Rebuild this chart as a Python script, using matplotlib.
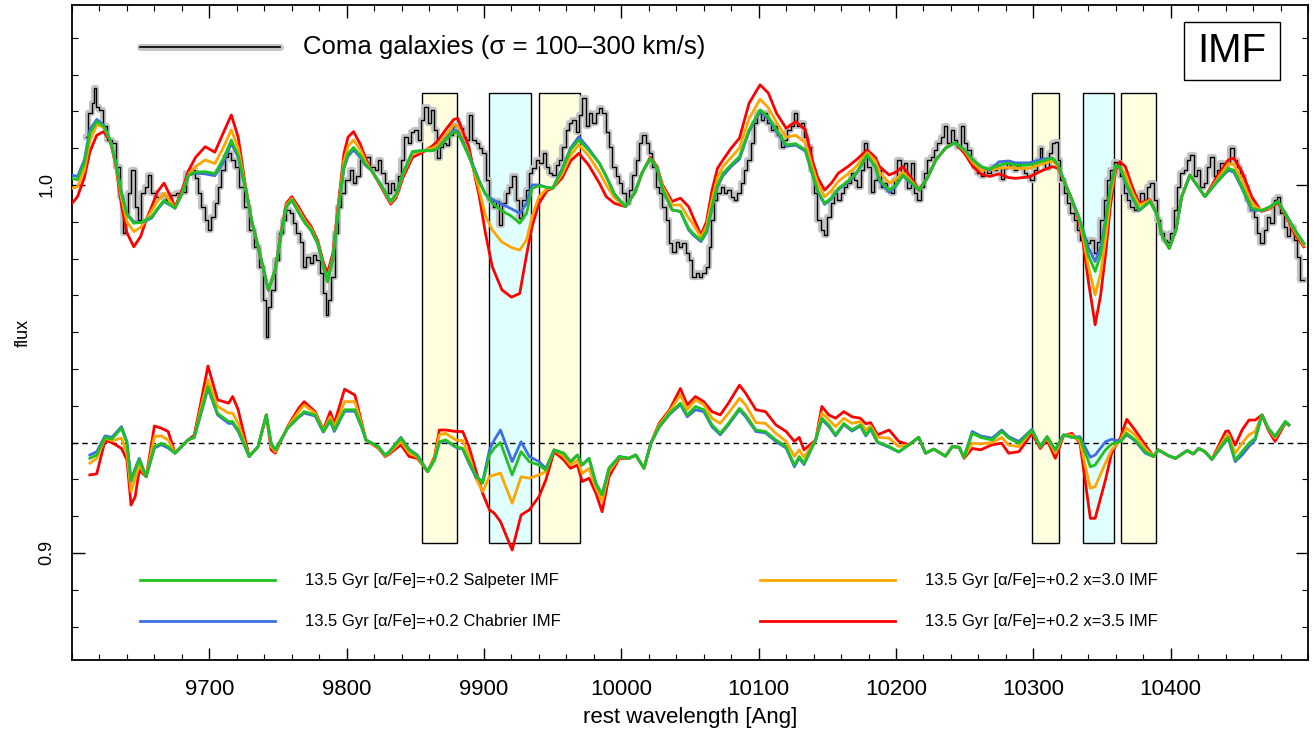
import matplotlib
matplotlib.use("Agg")
import matplotlib.pyplot as plt
from matplotlib.patches import Rectangle
from matplotlib.ticker import MultipleLocator, FixedLocator

plt.rcParams["font.family"] = ["Liberation Sans", "DejaVu Sans"]

# --- Coma galaxies stacked spectrum (step data) ---
coma_wl = [
    9610.5, 9613.0, 9615.4, 9616.6, 9618.5, 9621.4, 9623.9, 9627.5, 9631.1, 9633.6,
    9636.0, 9637.9, 9639.6, 9642.1, 9644.5, 9646.9, 9649.3, 9651.8, 9654.2, 9656.6,
    9659.0, 9662.7, 9666.3, 9670.0, 9673.6, 9677.2, 9680.9, 9684.5, 9688.1, 9690.6,
    9693.0, 9695.4, 9697.9, 9700.3, 9702.7, 9705.1, 9707.6, 9710.0, 9712.4, 9714.8,
    9717.3, 9719.7, 9723.3, 9727.0, 9730.6, 9734.2, 9737.9, 9740.3, 9741.5, 9743.9,
    9746.4, 9748.8, 9752.4, 9754.9, 9757.3, 9759.7, 9762.1, 9764.6, 9767.0, 9769.4,
    9771.8, 9774.3, 9776.7, 9779.1, 9781.6, 9784.0, 9785.9, 9787.6, 9790.0, 9792.5,
    9794.9, 9797.3, 9801.0, 9803.4, 9805.8, 9808.2, 9810.7, 9813.1, 9815.5, 9819.2,
    9821.6, 9824.0, 9826.4, 9828.9, 9831.3, 9833.4, 9835.8, 9838.3, 9840.7, 9843.1,
    9845.5, 9848.0, 9850.4, 9852.8, 9855.2, 9857.7, 9860.1, 9862.5, 9864.9, 9866.9,
    9868.6, 9871.0, 9873.4, 9875.9, 9878.3, 9880.7, 9883.1, 9885.6, 9888.0, 9890.4,
    9892.8, 9895.3, 9897.7, 9900.1, 9902.5, 9905.0, 9907.4, 9909.8, 9912.2, 9914.7,
    9917.1, 9919.5, 9922.0, 9924.4, 9926.8, 9929.2, 9931.7, 9934.1, 9936.5, 9938.9,
    9941.4, 9943.8, 9946.2, 9948.6, 9951.1, 9953.5, 9955.9, 9958.3, 9960.8, 9963.2,
    9965.6, 9968.0, 9970.5, 9972.9, 9975.3, 9977.8, 9980.2, 9982.6, 9985.0, 9987.5,
    9989.9, 9992.3, 9994.7, 9997.2, 9999.6, 10002.0, 10004.4, 10006.9, 10009.3, 10011.7,
    10014.1, 10016.6, 10019.0, 10021.4, 10023.8, 10026.3, 10028.7, 10031.1, 10033.5, 10036.0,
    10038.4, 10040.8, 10043.3, 10045.7, 10048.1, 10050.5, 10053.0, 10055.4, 10057.8, 10060.2,
    10062.6, 10064.5, 10066.3, 10068.7, 10071.1, 10073.6, 10076.0, 10078.4, 10080.8, 10083.3,
    10085.7, 10088.1, 10090.5, 10093.0, 10095.4, 10097.8, 10100.2, 10102.7, 10105.1, 10107.5,
    10110.0, 10112.4, 10114.8, 10117.2, 10119.7, 10122.1, 10124.5, 10126.9, 10129.4, 10131.8,
    10134.2, 10136.6, 10139.1, 10141.5, 10143.9, 10146.3, 10148.8, 10151.2, 10153.6, 10156.0,
    10158.5, 10160.9, 10163.3, 10165.7, 10168.2, 10170.6, 10173.0, 10175.5, 10177.9, 10180.3,
    10182.7, 10185.2, 10187.6, 10190.0, 10192.4, 10194.9, 10197.3, 10199.7, 10202.1, 10204.6,
    10207.0, 10209.4, 10211.8, 10214.3, 10216.7, 10219.1, 10221.5, 10224.0, 10226.4, 10228.8,
    10231.3, 10233.7, 10236.1, 10238.5, 10241.0, 10243.4, 10245.8, 10248.2, 10250.7, 10253.1,
    10255.5, 10257.9, 10260.4, 10262.8, 10265.2, 10267.6, 10270.1, 10272.5, 10274.9, 10277.3,
    10279.8, 10282.1, 10284.5, 10286.9, 10289.4, 10291.8, 10294.2, 10296.6, 10299.1, 10301.5,
    10303.9, 10305.1, 10307.6, 10310.0, 10312.4, 10314.8, 10317.3, 10318.5, 10320.9, 10323.3,
    10325.7, 10328.2, 10330.6, 10333.0, 10335.5, 10337.9, 10340.3, 10342.7, 10345.2, 10347.6,
    10350.0, 10352.4, 10354.9, 10357.3, 10359.7, 10362.1, 10364.6, 10367.0, 10369.4, 10371.8,
    10374.3, 10376.7, 10379.1, 10381.5, 10384.0, 10386.4, 10388.8, 10391.2, 10393.7, 10396.1,
    10398.5, 10401.0, 10403.4, 10405.8, 10408.2, 10410.7, 10413.1, 10415.5, 10417.9, 10420.4,
    10422.8, 10425.2, 10427.6, 10430.1, 10432.5, 10434.9, 10437.3, 10439.8, 10442.2, 10444.6,
    10447.0, 10449.5, 10451.9, 10454.3, 10456.8, 10459.2, 10461.6, 10464.0, 10466.5, 10468.9,
    10471.3, 10473.7, 10476.2, 10478.6, 10481.0, 10483.4, 10485.9, 10488.3, 10490.7, 10493.1,
    10494.8, 10497.0,
]
coma_flux = [
    1.0131, 1.0195, 1.0222, 1.0263, 1.0213, 1.0204, 1.0159, 1.0122, 1.0113, 1.0050,
    0.9968, 0.9869, 0.9923, 0.9977, 1.0041, 0.9941, 0.9905, 0.9977, 0.9995, 1.0027,
    0.9977, 0.9968, 0.9973, 0.9959, 0.9973, 0.9977, 0.9982, 1.0032, 1.0041, 1.0018,
    0.9977, 0.9941, 0.9905, 0.9878, 0.9914, 0.9950, 0.9995, 1.0041, 1.0077, 1.0086,
    1.0068, 1.0050, 0.9995, 0.9941, 0.9878, 0.9832, 0.9778, 0.9687, 0.9588, 0.9669,
    0.9715, 0.9796, 0.9869, 0.9905, 0.9932, 0.9923, 0.9896, 0.9869, 0.9846, 0.9778,
    0.9805, 0.9787, 0.9810, 0.9796, 0.9760, 0.9706, 0.9647, 0.9687, 0.9751, 0.9869,
    0.9941, 0.9977, 1.0014, 1.0041, 1.0005, 1.0023, 1.0068, 1.0059, 1.0077, 1.0050,
    1.0041, 1.0068, 1.0032, 1.0005, 0.9977, 1.0005, 0.9986, 1.0023, 1.0068, 1.0131,
    1.0113, 1.0145, 1.0149, 1.0122, 1.0177, 1.0213, 1.0168, 1.0204, 1.0149, 1.0072,
    1.0104, 1.0113, 1.0109, 1.0136, 1.0159, 1.0163, 1.0154, 1.0131, 1.0122, 1.0190,
    1.0122, 1.0113, 1.0100, 1.0086, 1.0014, 0.9959, 0.9941, 0.9955, 0.9891, 0.9950,
    0.9977, 0.9995, 1.0023, 0.9959, 0.9909, 0.9959, 0.9986, 1.0032, 1.0045, 1.0068,
    1.0059, 1.0086, 1.0050, 1.0032, 1.0027, 1.0055, 1.0068, 1.0104, 1.0149, 1.0168,
    1.0177, 1.0145, 1.0190, 1.0236, 1.0159, 1.0195, 1.0168, 1.0195, 1.0208, 1.0195,
    1.0145, 1.0104, 1.0050, 1.0023, 1.0005, 0.9977, 0.9950, 0.9986, 1.0027, 1.0068,
    1.0113, 1.0136, 1.0113, 1.0086, 1.0050, 0.9995, 0.9977, 0.9941, 0.9905, 0.9841,
    0.9819, 0.9846, 0.9832, 0.9841, 0.9814, 0.9796, 0.9751, 0.9760, 0.9751, 0.9760,
    0.9778, 0.9832, 0.9905, 0.9959, 0.9977, 0.9995, 0.9977, 0.9986, 0.9968, 0.9959,
    0.9977, 1.0005, 1.0041, 1.0068, 1.0113, 1.0168, 1.0195, 1.0177, 1.0195, 1.0168,
    1.0149, 1.0159, 1.0136, 1.0104, 1.0122, 1.0149, 1.0159, 1.0195, 1.0159, 1.0168,
    1.0131, 1.0104, 1.0041, 0.9977, 0.9905, 0.9878, 0.9864, 0.9914, 0.9950, 0.9977,
    0.9959, 0.9977, 0.9995, 1.0005, 1.0032, 1.0014, 0.9995, 1.0041, 1.0113, 1.0050,
    0.9982, 1.0014, 1.0041, 0.9995, 1.0005, 0.9986, 0.9977, 1.0014, 1.0068, 1.0032,
    1.0059, 0.9991, 1.0059, 0.9977, 0.9959, 0.9995, 1.0032, 1.0068, 1.0077, 1.0095,
    1.0113, 1.0131, 1.0159, 1.0113, 1.0149, 1.0122, 1.0104, 1.0159, 1.0113, 1.0095,
    1.0068, 1.0050, 1.0032, 1.0023, 1.0041, 1.0032, 1.0050, 1.0041, 1.0050, 1.0016,
    1.0045, 1.0059, 1.0050, 1.0041, 1.0054, 1.0045, 1.0032, 1.0023, 1.0014, 1.0041,
    1.0068, 1.0100, 1.0068, 1.0045, 1.0086, 1.0113, 1.0118, 1.0068, 1.0014, 0.9977,
    0.9950, 0.9923, 0.9905, 0.9878, 0.9851, 0.9851, 0.9841, 0.9851, 0.9814, 0.9846,
    0.9905, 0.9959, 1.0014, 1.0041, 1.0063, 1.0059, 1.0023, 0.9977, 0.9959, 0.9941,
    0.9932, 0.9950, 0.9977, 0.9959, 0.9995, 1.0005, 0.9959, 0.9905, 0.9869, 0.9851,
    0.9846, 0.9869, 0.9932, 0.9995, 1.0032, 1.0041, 1.0068, 1.0082, 1.0023, 1.0041,
    0.9995, 1.0005, 1.0050, 1.0077, 1.0023, 1.0041, 1.0059, 1.0041, 1.0059, 1.0100,
    1.0068, 1.0050, 1.0023, 0.9995, 0.9959, 0.9932, 0.9914, 0.9869, 0.9841, 0.9878,
    0.9914, 0.9896, 0.9959, 0.9968, 0.9923, 0.9887, 0.9860, 0.9887, 0.9851, 0.9805,
    0.9742, 0.9742,
]

# --- model spectra, upper panel ---
wl_up = [
    9600, 9604, 9609, 9613, 9618, 9623, 9628, 9632, 9636, 9640,
    9645, 9650, 9654, 9658, 9662, 9667, 9671, 9675, 9680, 9685,
    9690, 9697, 9704, 9710, 9716, 9721, 9726, 9731, 9736, 9743,
    9748, 9752, 9756, 9760, 9765, 9770, 9774, 9779, 9783, 9786,
    9790, 9794, 9798, 9801, 9805, 9810, 9814, 9818, 9825, 9832,
    9836, 9841, 9848, 9855, 9862, 9866, 9872, 9878, 9881, 9885,
    9889, 9893, 9896.5, 9901, 9906, 9913, 9920, 9926, 9931, 9935,
    9940, 9946, 9950, 9957, 9963, 9969, 9976, 9984, 9989, 9995,
    10003, 10010, 10015, 10021, 10026, 10030, 10037, 10043, 10049, 10052,
    10058, 10062, 10066, 10070, 10074, 10080, 10086, 10093, 10101, 10107,
    10113, 10120, 10127, 10134, 10139, 10143, 10148, 10153, 10158, 10165,
    10171, 10179, 10185, 10188, 10195, 10200, 10205, 10210, 10217, 10223,
    10229, 10236, 10243, 10250, 10256, 10262, 10268, 10275, 10282, 10287,
    10297, 10307, 10314, 10318, 10323, 10328, 10333, 10336, 10340, 10345,
    10349, 10353, 10356, 10360, 10363, 10367, 10372, 10377, 10385, 10390,
    10394, 10399, 10404, 10408, 10414, 10420, 10425, 10433, 10442, 10446,
    10452, 10459, 10466, 10472, 10478, 10484, 10490, 10497,
]
up_salpeter = [
    1.0018, 1.0014, 1.0060, 1.0140, 1.0172, 1.0160, 1.0120, 1.0060, 0.9977, 0.9920,
    0.9896, 0.9898, 0.9905, 0.9914, 0.9935, 0.9958, 0.9948, 0.9937, 0.9975, 1.0027,
    1.0035, 1.0036, 1.0031, 1.0070, 1.0122, 1.0080, 0.9995, 0.9900, 0.9825, 0.9714,
    0.9770, 0.9858, 0.9940, 0.9959, 0.9925, 0.9895, 0.9877, 0.9840, 0.9780, 0.9737,
    0.9800, 0.9932, 1.0050, 1.0085, 1.0102, 1.0080, 1.0055, 1.0040, 1.0000, 0.9955,
    0.9975, 1.0032, 1.0091, 1.0093, 1.0093, 1.0098, 1.0122, 1.0145, 1.0140, 1.0110,
    1.0077, 1.0040, 1.0009, 0.9975, 0.9950, 0.9930, 0.9915, 0.9896, 0.9923, 0.9990,
    0.9998, 0.9993, 0.9991, 1.0041, 1.0095, 1.0122, 1.0095, 1.0059, 1.0023, 0.9975,
    0.9941, 0.9980, 1.0032, 1.0072, 1.0045, 0.9986, 0.9932, 0.9928, 0.9882, 0.9869,
    0.9850, 0.9875, 0.9941, 1.0000, 1.0032, 1.0055, 1.0077, 1.0150, 1.0204, 1.0185,
    1.0150, 1.0109, 1.0112, 1.0095, 1.0032, 0.9985, 0.9950, 0.9965, 0.9991, 1.0010,
    1.0032, 1.0082, 1.0050, 1.0014, 0.9986, 1.0000, 1.0027, 1.0010, 0.9986, 1.0020,
    1.0068, 1.0100, 1.0115, 1.0095, 1.0068, 1.0050, 1.0043, 1.0054, 1.0059, 1.0054,
    1.0054, 1.0065, 1.0073, 1.0055, 1.0005, 0.9960, 0.9914, 0.9875, 0.9810, 0.9765,
    0.9810, 0.9905, 0.9990, 1.0054, 1.0048, 1.0010, 0.9968, 0.9932, 0.9955, 0.9920,
    0.9860, 0.9828, 0.9880, 0.9968, 1.0027, 0.9995, 0.9968, 1.0005, 1.0045, 1.0040,
    0.9995, 0.9937, 0.9930, 0.9940, 0.9955, 0.9920, 0.9880, 0.9841,
]
up_chabrier = [
    1.0027, 1.0023, 1.0068, 1.0150, 1.0178, 1.0163, 1.0120, 1.0060, 0.9980, 0.9922,
    0.9900, 0.9898, 0.9903, 0.9910, 0.9932, 0.9955, 0.9946, 0.9937, 0.9975, 1.0027,
    1.0032, 1.0030, 1.0025, 1.0060, 1.0113, 1.0075, 0.9995, 0.9900, 0.9825, 0.9714,
    0.9770, 0.9858, 0.9940, 0.9959, 0.9925, 0.9895, 0.9877, 0.9840, 0.9780, 0.9737,
    0.9800, 0.9932, 1.0045, 1.0078, 1.0095, 1.0075, 1.0052, 1.0040, 1.0000, 0.9955,
    0.9975, 1.0032, 1.0091, 1.0093, 1.0093, 1.0098, 1.0125, 1.0150, 1.0145, 1.0115,
    1.0080, 1.0045, 1.0012, 0.9975, 0.9960, 0.9948, 0.9935, 0.9923, 0.9950, 1.0000,
    1.0000, 0.9993, 0.9991, 1.0045, 1.0100, 1.0131, 1.0100, 1.0059, 1.0023, 0.9975,
    0.9941, 0.9980, 1.0032, 1.0072, 1.0045, 0.9986, 0.9932, 0.9928, 0.9878, 0.9865,
    0.9846, 0.9870, 0.9935, 0.9995, 1.0025, 1.0050, 1.0070, 1.0145, 1.0200, 1.0180,
    1.0145, 1.0105, 1.0108, 1.0092, 1.0030, 0.9982, 0.9947, 0.9962, 0.9988, 1.0007,
    1.0030, 1.0080, 1.0048, 1.0010, 0.9980, 0.9997, 1.0025, 1.0008, 0.9986, 1.0020,
    1.0068, 1.0100, 1.0115, 1.0095, 1.0068, 1.0050, 1.0040, 1.0063, 1.0065, 1.0060,
    1.0060, 1.0070, 1.0073, 1.0055, 1.0005, 0.9960, 0.9914, 0.9880, 0.9830, 0.9792,
    0.9830, 0.9915, 0.9995, 1.0054, 1.0048, 1.0005, 0.9965, 0.9930, 0.9955, 0.9920,
    0.9860, 0.9828, 0.9880, 0.9968, 1.0027, 0.9995, 0.9968, 1.0005, 1.0040, 1.0035,
    0.9990, 0.9932, 0.9930, 0.9940, 0.9955, 0.9920, 0.9880, 0.9841,
]
up_x30 = [
    0.9991, 0.9995, 1.0040, 1.0120, 1.0163, 1.0158, 1.0120, 1.0055, 0.9965, 0.9900,
    0.9873, 0.9885, 0.9905, 0.9930, 0.9955, 0.9977, 0.9958, 0.9937, 0.9978, 1.0030,
    1.0050, 1.0068, 1.0058, 1.0100, 1.0150, 1.0100, 1.0000, 0.9900, 0.9825, 0.9714,
    0.9770, 0.9860, 0.9945, 0.9963, 0.9932, 0.9900, 0.9882, 0.9842, 0.9782, 0.9745,
    0.9805, 0.9940, 1.0065, 1.0105, 1.0122, 1.0095, 1.0062, 1.0040, 0.9998, 0.9952,
    0.9970, 1.0028, 1.0085, 1.0092, 1.0100, 1.0108, 1.0135, 1.0163, 1.0160, 1.0120,
    1.0085, 1.0035, 0.9986, 0.9917, 0.9878, 0.9845, 0.9830, 0.9823, 0.9851, 0.9914,
    0.9968, 0.9990, 0.9991, 1.0030, 1.0080, 1.0109, 1.0080, 1.0035, 1.0000, 0.9965,
    0.9941, 0.9980, 1.0032, 1.0072, 1.0048, 0.9995, 0.9945, 0.9946, 0.9910, 0.9895,
    0.9858, 0.9888, 0.9960, 1.0020, 1.0050, 1.0075, 1.0100, 1.0180, 1.0233, 1.0210,
    1.0170, 1.0130, 1.0135, 1.0115, 1.0050, 1.0005, 0.9968, 0.9985, 1.0010, 1.0030,
    1.0050, 1.0088, 1.0065, 1.0035, 1.0005, 1.0015, 1.0035, 1.0015, 0.9986, 1.0020,
    1.0068, 1.0100, 1.0115, 1.0092, 1.0060, 1.0040, 1.0040, 1.0045, 1.0048, 1.0045,
    1.0045, 1.0058, 1.0065, 1.0050, 1.0005, 0.9960, 0.9910, 0.9862, 0.9780, 0.9701,
    0.9760, 0.9865, 0.9965, 1.0050, 1.0050, 1.0030, 0.9980, 0.9945, 0.9958, 0.9920,
    0.9860, 0.9828, 0.9880, 0.9968, 1.0027, 0.9995, 0.9968, 1.0010, 1.0058, 1.0055,
    1.0015, 0.9950, 0.9930, 0.9937, 0.9955, 0.9918, 0.9875, 0.9836,
]
up_x35 = [
    0.9950, 0.9968, 1.0020, 1.0090, 1.0135, 1.0145, 1.0118, 1.0050, 0.9945, 0.9870,
    0.9832, 0.9860, 0.9905, 0.9941, 0.9980, 1.0005, 0.9975, 0.9940, 0.9985, 1.0040,
    1.0075, 1.0104, 1.0089, 1.0140, 1.0190, 1.0130, 1.0005, 0.9900, 0.9825, 0.9714,
    0.9770, 0.9865, 0.9950, 0.9968, 0.9940, 0.9908, 0.9888, 0.9848, 0.9790, 0.9760,
    0.9815, 0.9950, 1.0085, 1.0130, 1.0145, 1.0110, 1.0070, 1.0040, 0.9995, 0.9948,
    0.9965, 1.0020, 1.0075, 1.0088, 1.0105, 1.0118, 1.0150, 1.0178, 1.0181, 1.0140,
    1.0104, 1.0030, 0.9970, 0.9870, 0.9778, 0.9715, 0.9695, 0.9705, 0.9810, 0.9887,
    0.9950, 0.9985, 0.9991, 1.0020, 1.0065, 1.0086, 1.0055, 1.0005, 0.9968, 0.9950,
    0.9941, 0.9980, 1.0032, 1.0075, 1.0050, 1.0000, 0.9955, 0.9964, 0.9941, 0.9915,
    0.9864, 0.9900, 0.9985, 1.0045, 1.0068, 1.0100, 1.0127, 1.0222, 1.0272, 1.0250,
    1.0195, 1.0154, 1.0172, 1.0150, 1.0068, 1.0020, 0.9986, 1.0005, 1.0032, 1.0050,
    1.0068, 1.0095, 1.0075, 1.0050, 1.0027, 1.0035, 1.0050, 1.0025, 0.9986, 1.0020,
    1.0068, 1.0100, 1.0115, 1.0085, 1.0050, 1.0030, 1.0023, 1.0030, 1.0020, 1.0018,
    1.0022, 1.0040, 1.0050, 1.0045, 1.0005, 0.9962, 0.9905, 0.9850, 0.9740, 0.9620,
    0.9700, 0.9825, 0.9940, 1.0040, 1.0063, 1.0050, 0.9995, 0.9950, 0.9960, 0.9920,
    0.9860, 0.9828, 0.9880, 0.9968, 1.0027, 0.9995, 0.9968, 1.0018, 1.0068, 1.0073,
    1.0035, 0.9968, 0.9928, 0.9935, 0.9952, 0.9915, 0.9868, 0.9832,
]

# --- model spectra, lower panel (offset residuals around 0.93) ---
wl_lo = [
    9613, 9618, 9624, 9629, 9636, 9640, 9643, 9646, 9649, 9654,
    9660, 9665, 9670, 9675, 9684.5, 9689, 9693, 9699, 9706, 9714,
    9717, 9721, 9729, 9735.5, 9741.5, 9745, 9748, 9757, 9765, 9769,
    9777, 9783, 9788, 9791, 9798.5, 9806, 9811, 9814, 9823, 9828,
    9831, 9839.5, 9845.5, 9851.5, 9859, 9864, 9867.5, 9872, 9879.5, 9884.5,
    9889, 9894, 9899, 9904, 9907.5, 9912, 9920.5, 9927, 9933, 9940,
    9945, 9951, 9958, 9963, 9968, 9971.5, 9976.5, 9981.5, 9986, 9991,
    9998.5, 10005.5, 10010.5, 10016.5, 10021.5, 10027.5, 10035, 10043, 10048, 10054,
    10060, 10066, 10072, 10078, 10086, 10090.5, 10098, 10105, 10112.5, 10120,
    10126, 10129.5, 10133, 10141.5, 10146, 10151, 10156, 10162, 10168, 10174,
    10178, 10181.5, 10186.5, 10195, 10202, 10209.5, 10216.5, 10221.5, 10227.5, 10236,
    10241, 10246, 10249.5, 10255.5, 10261.5, 10270, 10277, 10282, 10289.5, 10299,
    10305, 10310, 10316, 10322, 10328, 10334, 10338, 10341.5, 10345, 10352.5,
    10357, 10363.5, 10368, 10374, 10381.5, 10387.5, 10391, 10398.5, 10403.5, 10412,
    10416.5, 10420.5, 10425, 10430, 10440, 10442, 10447, 10452, 10457, 10461.5,
    10466.5, 10471, 10476, 10483.5, 10486,
]
lo_salpeter = [
    0.9257, 0.9266, 0.9314, 0.9309, 0.9339, 0.9298, 0.9194, 0.9225, 0.9253, 0.9207,
    0.9289, 0.9298, 0.9289, 0.9271, 0.9307, 0.9314, 0.9370, 0.9452, 0.9379, 0.9357,
    0.9357, 0.9334, 0.9262, 0.9289, 0.9375, 0.9298, 0.9280, 0.9339, 0.9370, 0.9384,
    0.9375, 0.9330, 0.9361, 0.9334, 0.9389, 0.9389, 0.9343, 0.9307, 0.9289, 0.9266,
    0.9275, 0.9312, 0.9280, 0.9264, 0.9221, 0.9253, 0.9302, 0.9307, 0.9289, 0.9284,
    0.9248, 0.9212, 0.9189, 0.9266, 0.9285, 0.9300, 0.9212, 0.9275, 0.9248, 0.9239,
    0.9225, 0.9280, 0.9271, 0.9248, 0.9266, 0.9239, 0.9257, 0.9189, 0.9158, 0.9230,
    0.9262, 0.9257, 0.9266, 0.9230, 0.9298, 0.9343, 0.9379, 0.9407, 0.9375, 0.9398,
    0.9389, 0.9348, 0.9325, 0.9352, 0.9393, 0.9375, 0.9334, 0.9330, 0.9307, 0.9289,
    0.9239, 0.9262, 0.9244, 0.9307, 0.9366, 0.9348, 0.9321, 0.9352, 0.9334, 0.9348,
    0.9321, 0.9339, 0.9302, 0.9289, 0.9275, 0.9294, 0.9314, 0.9271, 0.9282, 0.9263,
    0.9289, 0.9287, 0.9260, 0.9325, 0.9314, 0.9307, 0.9330, 0.9312, 0.9298, 0.9334,
    0.9289, 0.9316, 0.9280, 0.9321, 0.9314, 0.9312, 0.9271, 0.9234, 0.9239, 0.9280,
    0.9296, 0.9303, 0.9325, 0.9307, 0.9275, 0.9262, 0.9280, 0.9264, 0.9257, 0.9278,
    0.9269, 0.9284, 0.9275, 0.9254, 0.9307, 0.9314, 0.9253, 0.9275, 0.9298, 0.9312,
    0.9375, 0.9339, 0.9316, 0.9357, 0.9348,
]
lo_chabrier = [
    0.9266, 0.9275, 0.9318, 0.9314, 0.9343, 0.9303, 0.9198, 0.9230, 0.9257, 0.9207,
    0.9285, 0.9294, 0.9285, 0.9271, 0.9307, 0.9314, 0.9366, 0.9447, 0.9375, 0.9352,
    0.9352, 0.9330, 0.9262, 0.9289, 0.9375, 0.9298, 0.9280, 0.9339, 0.9368, 0.9380,
    0.9372, 0.9328, 0.9358, 0.9330, 0.9385, 0.9385, 0.9340, 0.9307, 0.9289, 0.9266,
    0.9275, 0.9314, 0.9282, 0.9266, 0.9221, 0.9253, 0.9300, 0.9305, 0.9287, 0.9282,
    0.9244, 0.9207, 0.9194, 0.9280, 0.9307, 0.9334, 0.9248, 0.9302, 0.9262, 0.9248,
    0.9230, 0.9280, 0.9271, 0.9248, 0.9266, 0.9239, 0.9257, 0.9189, 0.9158, 0.9230,
    0.9262, 0.9257, 0.9266, 0.9230, 0.9298, 0.9341, 0.9376, 0.9403, 0.9370, 0.9389,
    0.9384, 0.9343, 0.9321, 0.9348, 0.9389, 0.9370, 0.9330, 0.9326, 0.9303, 0.9285,
    0.9234, 0.9258, 0.9240, 0.9307, 0.9362, 0.9344, 0.9318, 0.9349, 0.9331, 0.9345,
    0.9318, 0.9336, 0.9300, 0.9287, 0.9274, 0.9294, 0.9314, 0.9271, 0.9282, 0.9263,
    0.9289, 0.9287, 0.9260, 0.9330, 0.9318, 0.9312, 0.9334, 0.9316, 0.9303, 0.9336,
    0.9289, 0.9316, 0.9280, 0.9321, 0.9314, 0.9316, 0.9285, 0.9260, 0.9266, 0.9302,
    0.9309, 0.9303, 0.9321, 0.9305, 0.9271, 0.9262, 0.9280, 0.9264, 0.9257, 0.9278,
    0.9269, 0.9284, 0.9275, 0.9254, 0.9303, 0.9310, 0.9248, 0.9266, 0.9289, 0.9307,
    0.9375, 0.9339, 0.9316, 0.9357, 0.9348,
]
lo_x30 = [
    0.9244, 0.9257, 0.9312, 0.9305, 0.9312, 0.9271, 0.9167, 0.9203, 0.9239, 0.9207,
    0.9316, 0.9318, 0.9307, 0.9271, 0.9307, 0.9314, 0.9380, 0.9470, 0.9398, 0.9380,
    0.9380, 0.9352, 0.9262, 0.9289, 0.9375, 0.9290, 0.9275, 0.9341, 0.9384, 0.9402,
    0.9380, 0.9332, 0.9370, 0.9343, 0.9411, 0.9411, 0.9348, 0.9307, 0.9287, 0.9264,
    0.9272, 0.9303, 0.9271, 0.9260, 0.9221, 0.9258, 0.9321, 0.9325, 0.9307, 0.9305,
    0.9266, 0.9203, 0.9167, 0.9207, 0.9212, 0.9217, 0.9135, 0.9207, 0.9203, 0.9212,
    0.9221, 0.9280, 0.9262, 0.9239, 0.9252, 0.9216, 0.9230, 0.9176, 0.9140, 0.9221,
    0.9260, 0.9257, 0.9266, 0.9230, 0.9298, 0.9348, 0.9384, 0.9429, 0.9389, 0.9416,
    0.9403, 0.9366, 0.9352, 0.9380, 0.9420, 0.9402, 0.9354, 0.9352, 0.9325, 0.9303,
    0.9262, 0.9280, 0.9260, 0.9307, 0.9380, 0.9362, 0.9343, 0.9366, 0.9352, 0.9357,
    0.9334, 0.9345, 0.9314, 0.9312, 0.9289, 0.9294, 0.9314, 0.9271, 0.9282, 0.9263,
    0.9289, 0.9287, 0.9259, 0.9298, 0.9296, 0.9300, 0.9314, 0.9293, 0.9289, 0.9333,
    0.9288, 0.9312, 0.9271, 0.9320, 0.9320, 0.9303, 0.9234, 0.9176, 0.9180, 0.9244,
    0.9280, 0.9307, 0.9339, 0.9321, 0.9284, 0.9262, 0.9280, 0.9264, 0.9257, 0.9278,
    0.9269, 0.9284, 0.9275, 0.9254, 0.9316, 0.9321, 0.9271, 0.9298, 0.9321, 0.9330,
    0.9375, 0.9337, 0.9312, 0.9355, 0.9348,
]
lo_x35 = [
    0.9212, 0.9215, 0.9305, 0.9300, 0.9284, 0.9253, 0.9130, 0.9153, 0.9225, 0.9207,
    0.9345, 0.9339, 0.9330, 0.9271, 0.9307, 0.9320, 0.9393, 0.9508, 0.9416, 0.9407,
    0.9425, 0.9389, 0.9262, 0.9289, 0.9375, 0.9280, 0.9271, 0.9343, 0.9393, 0.9411,
    0.9384, 0.9334, 0.9384, 0.9352, 0.9445, 0.9429, 0.9352, 0.9307, 0.9285, 0.9262,
    0.9269, 0.9294, 0.9262, 0.9257, 0.9221, 0.9262, 0.9334, 0.9334, 0.9330, 0.9330,
    0.9289, 0.9225, 0.9162, 0.9117, 0.9108, 0.9085, 0.9008, 0.9103, 0.9117, 0.9153,
    0.9198, 0.9275, 0.9253, 0.9230, 0.9239, 0.9194, 0.9203, 0.9162, 0.9112, 0.9207,
    0.9257, 0.9257, 0.9266, 0.9230, 0.9298, 0.9352, 0.9388, 0.9447, 0.9402, 0.9425,
    0.9411, 0.9384, 0.9375, 0.9407, 0.9456, 0.9434, 0.9389, 0.9384, 0.9348, 0.9330,
    0.9303, 0.9314, 0.9280, 0.9307, 0.9398, 0.9375, 0.9366, 0.9384, 0.9370, 0.9366,
    0.9351, 0.9354, 0.9321, 0.9334, 0.9303, 0.9294, 0.9314, 0.9271, 0.9282, 0.9263,
    0.9289, 0.9287, 0.9257, 0.9284, 0.9280, 0.9294, 0.9298, 0.9271, 0.9275, 0.9325,
    0.9284, 0.9307, 0.9257, 0.9318, 0.9325, 0.9298, 0.9189, 0.9094, 0.9094, 0.9198,
    0.9271, 0.9314, 0.9363, 0.9334, 0.9293, 0.9262, 0.9280, 0.9264, 0.9257, 0.9278,
    0.9269, 0.9284, 0.9275, 0.9254, 0.9330, 0.9332, 0.9293, 0.9334, 0.9361, 0.9361,
    0.9375, 0.9334, 0.9303, 0.9353, 0.9348,
]

# index bands (wavelength ranges) and their fill colours
band_lo = [9855, 9904, 9940, 10299, 10336, 10364]
band_hi = [9880, 9934, 9970, 10319, 10359, 10389]
band_kind = ["side", "feature", "side", "side", "feature", "side"]
band_ylo, band_yhi = 0.9027, 1.025
zero_level = 0.93

xtick_values = [9700, 9800, 9900, 10000, 10100, 10200, 10300, 10400]
ytick_values = [0.9, 1.0]

labels = [
    "13.5 Gyr [\u03b1/Fe]=+0.2 Salpeter IMF",
    "13.5 Gyr [\u03b1/Fe]=+0.2 Chabrier IMF",
    "13.5 Gyr [\u03b1/Fe]=+0.2 x=3.0 IMF",
    "13.5 Gyr [\u03b1/Fe]=+0.2 x=3.5 IMF",
]
col_salp, col_chab, col_x30, col_x35 = "#1fc21f", "#3d6fe3", "#ffa500", "#ff0000"

fig = plt.figure(figsize=(13.13, 7.34), dpi=100)
ax = fig.add_axes([72 / 1313, 74 / 734, 1236 / 1313, 655 / 734])

for lo, hi, kind in zip(band_lo, band_hi, band_kind):
    fc = "#ffffe0" if kind == "side" else "#e0ffff"
    ax.add_patch(Rectangle((lo, band_ylo), hi - lo, band_yhi - band_ylo,
                           facecolor=fc, edgecolor="black", lw=1.0, zorder=1))

ax.axhline(zero_level, color="black", ls=(0, (4, 3)), lw=1.0, zorder=2)

ax.step(coma_wl, coma_flux, where="mid", color="#c4c4c4", lw=4.5, zorder=3,
        solid_joinstyle="round")
ax.step(coma_wl, coma_flux, where="mid", color="black", lw=1.0, zorder=4)

for y_up, y_lo, col in [(up_x35, lo_x35, col_x35), (up_x30, lo_x30, col_x30),
                        (up_chabrier, lo_chabrier, col_chab),
                        (up_salpeter, lo_salpeter, col_salp)]:
    ax.plot(wl_up, y_up, color=col, lw=2.0, zorder=5, solid_joinstyle="round")
    ax.plot(wl_lo, y_lo, color=col, lw=2.0, zorder=5, solid_joinstyle="round")

ax.set_xlim(9600, 10500)
ax.set_ylim(0.8709, 1.0489)

ax.xaxis.set_major_locator(FixedLocator(xtick_values))
ax.xaxis.set_minor_locator(MultipleLocator(20))
ax.yaxis.set_major_locator(FixedLocator(ytick_values))
ax.yaxis.set_minor_locator(MultipleLocator(0.01))
ax.tick_params(which="both", direction="in", top=True, right=True)
ax.tick_params(which="major", length=9, width=1.0)
ax.tick_params(which="minor", length=4.5, width=0.8)
ax.set_yticklabels(["0.9", "1.0"], rotation=90, va="center")
ax.tick_params(axis="y", pad=12, labelsize=13)
ax.tick_params(axis="x", pad=14, labelsize=16)
for s in ax.spines.values():
    s.set_linewidth(1.3)

ax.set_xlabel("rest wavelength [Ang]", fontsize=16, labelpad=5)
ax.set_ylabel("flux", fontsize=13, labelpad=5)

# legend, top: Coma data
tr = ax.transAxes
ax.plot([0.055, 0.168], [0.936, 0.936], transform=tr, color="#c4c4c4", lw=5,
        solid_capstyle="round", zorder=6)
ax.plot([0.055, 0.168], [0.936, 0.936], transform=tr, color="black", lw=1.2, zorder=7)
ax.text(0.187, 0.936, "Coma galaxies (\u03c3 = 100\u2013300 km/s)", transform=tr,
        fontsize=18.5, va="center", ha="left", zorder=7)

# legend, bottom: models
leg = [(0.055, 0.122, col_salp, labels[0]), (0.055, 0.0595, col_chab, labels[1]),
       (0.5566, 0.122, col_x30, labels[2]), (0.5566, 0.0595, col_x35, labels[3])]
for x0, y0, col, lab in leg:
    ax.plot([x0, x0 + 0.109], [y0, y0], transform=tr, color=col, lw=2.0, zorder=7)
    ax.text(x0 + 0.1335, y0, lab, transform=tr, fontsize=12, va="center", ha="left")

# IMF tag
ax.add_patch(Rectangle((0.8997, 0.8855), 0.0777, 0.0885, transform=tr,
                       facecolor="white", edgecolor="black", lw=1.0, zorder=7))
ax.text(0.8997 + 0.0777 / 2, 0.8855 + 0.0885 / 2, "IMF", transform=tr,
        fontsize=29, ha="center", va="center", zorder=8)

fig.savefig("out.png", dpi=100)
